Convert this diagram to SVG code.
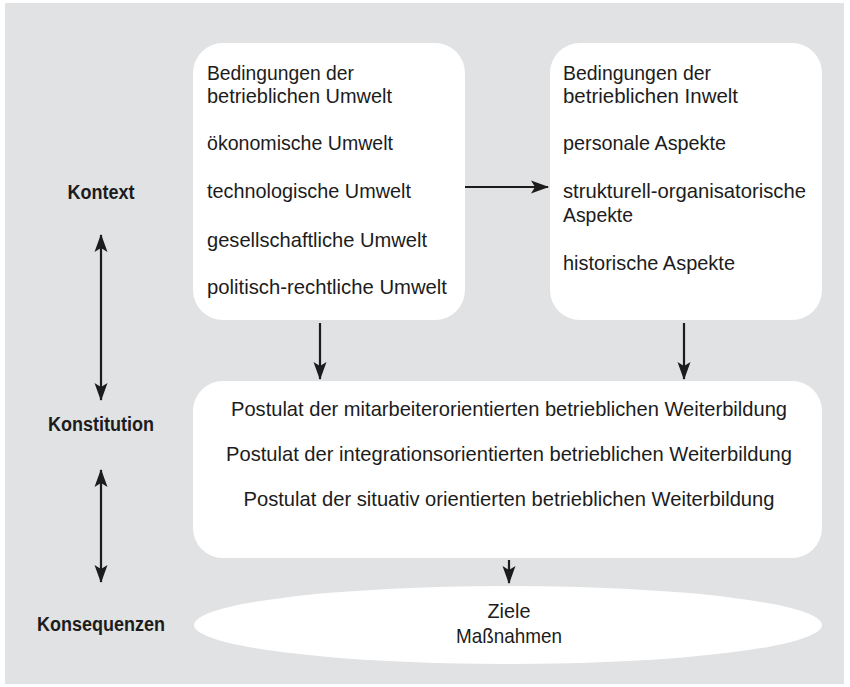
<svg xmlns="http://www.w3.org/2000/svg" width="850" height="687" viewBox="0 0 850 687">
<defs>
<style>
.t{font-family:"Liberation Sans",Arial,sans-serif;font-size:21px;fill:#1c1c1c}
.b{font-family:"Liberation Sans",Arial,sans-serif;font-size:20px;font-weight:bold;fill:#1c1c1c;text-anchor:middle}
.c{text-anchor:middle}
.box{fill:#ffffff}
.ln{stroke:#1c1c1c;stroke-width:2.2;fill:none}
</style>
<marker id="ah" viewBox="0 0 18 14" refX="17" refY="7" markerWidth="18" markerHeight="14" markerUnits="userSpaceOnUse" orient="auto-start-reverse">
<path d="M0,0.5 L18,7 L0,13.5 L4,7 Z" fill="#1c1c1c"/>
</marker>
</defs>
<rect x="5" y="3" width="839" height="681" fill="#e1e2e4"/>
<g id="label-kontext"><text class="b" x="101" y="199" textLength="67" lengthAdjust="spacingAndGlyphs">Kontext</text></g>
<g id="label-konstitution"><text class="b" x="101" y="431" textLength="106" lengthAdjust="spacingAndGlyphs">Konstitution</text></g>
<g id="label-konsequenzen"><text class="b" x="101" y="631" textLength="128" lengthAdjust="spacingAndGlyphs">Konsequenzen</text></g>
<g id="umwelt">
<rect class="box" x="193" y="43" width="272" height="277" rx="30"/>
<text class="t" x="207" y="80" textLength="147" lengthAdjust="spacingAndGlyphs">Bedingungen der</text>
<text class="t" x="207" y="103" textLength="185" lengthAdjust="spacingAndGlyphs">betrieblichen Umwelt</text>
<text class="t" x="207" y="150" textLength="186" lengthAdjust="spacingAndGlyphs">ökonomische Umwelt</text>
<text class="t" x="207" y="198" textLength="204" lengthAdjust="spacingAndGlyphs">technologische Umwelt</text>
<text class="t" x="207" y="247" textLength="220" lengthAdjust="spacingAndGlyphs">gesellschaftliche Umwelt</text>
<text class="t" x="207" y="294" textLength="240" lengthAdjust="spacingAndGlyphs">politisch-rechtliche Umwelt</text>
</g>
<g id="inwelt">
<rect class="box" x="550" y="43" width="272" height="277" rx="30"/>
<text class="t" x="563" y="80" textLength="148" lengthAdjust="spacingAndGlyphs">Bedingungen der</text>
<text class="t" x="563" y="103" textLength="175" lengthAdjust="spacingAndGlyphs">betrieblichen Inwelt</text>
<text class="t" x="563" y="150" textLength="163" lengthAdjust="spacingAndGlyphs">personale Aspekte</text>
<text class="t" x="563" y="198" textLength="243" lengthAdjust="spacingAndGlyphs">strukturell-organisatorische</text>
<text class="t" x="563" y="222" textLength="70" lengthAdjust="spacingAndGlyphs">Aspekte</text>
<text class="t" x="563" y="270" textLength="172" lengthAdjust="spacingAndGlyphs">historische Aspekte</text>
</g>
<g id="postulate">
<rect class="box" x="193" y="381" width="629" height="177" rx="30"/>
<text class="t c" x="509" y="416" textLength="556" lengthAdjust="spacingAndGlyphs">Postulat der mitarbeiterorientierten betrieblichen Weiterbildung</text>
<text class="t c" x="509" y="461" textLength="566" lengthAdjust="spacingAndGlyphs">Postulat der integrationsorientierten betrieblichen Weiterbildung</text>
<text class="t c" x="509" y="506" textLength="531" lengthAdjust="spacingAndGlyphs">Postulat der situativ orientierten betrieblichen Weiterbildung</text>
</g>
<g id="ziele">
<ellipse class="box" cx="508" cy="625" rx="314" ry="39"/>
<text class="t c" x="509" y="618" textLength="43" lengthAdjust="spacingAndGlyphs">Ziele</text>
<text class="t c" x="509" y="643" textLength="106" lengthAdjust="spacingAndGlyphs">Maßnahmen</text>
</g>
<g id="connectors">
<line class="ln" x1="465" y1="187" x2="548" y2="187" marker-end="url(#ah)"/>
<line class="ln" x1="320" y1="323" x2="320" y2="379" marker-end="url(#ah)"/>
<line class="ln" x1="684" y1="323" x2="684" y2="379" marker-end="url(#ah)"/>
<line class="ln" x1="509" y1="560" x2="509" y2="583" marker-end="url(#ah)"/>
<line class="ln" x1="101" y1="235" x2="101" y2="400" marker-start="url(#ah)" marker-end="url(#ah)"/>
<line class="ln" x1="101" y1="470" x2="101" y2="582" marker-start="url(#ah)" marker-end="url(#ah)"/>
</g>
</svg>
